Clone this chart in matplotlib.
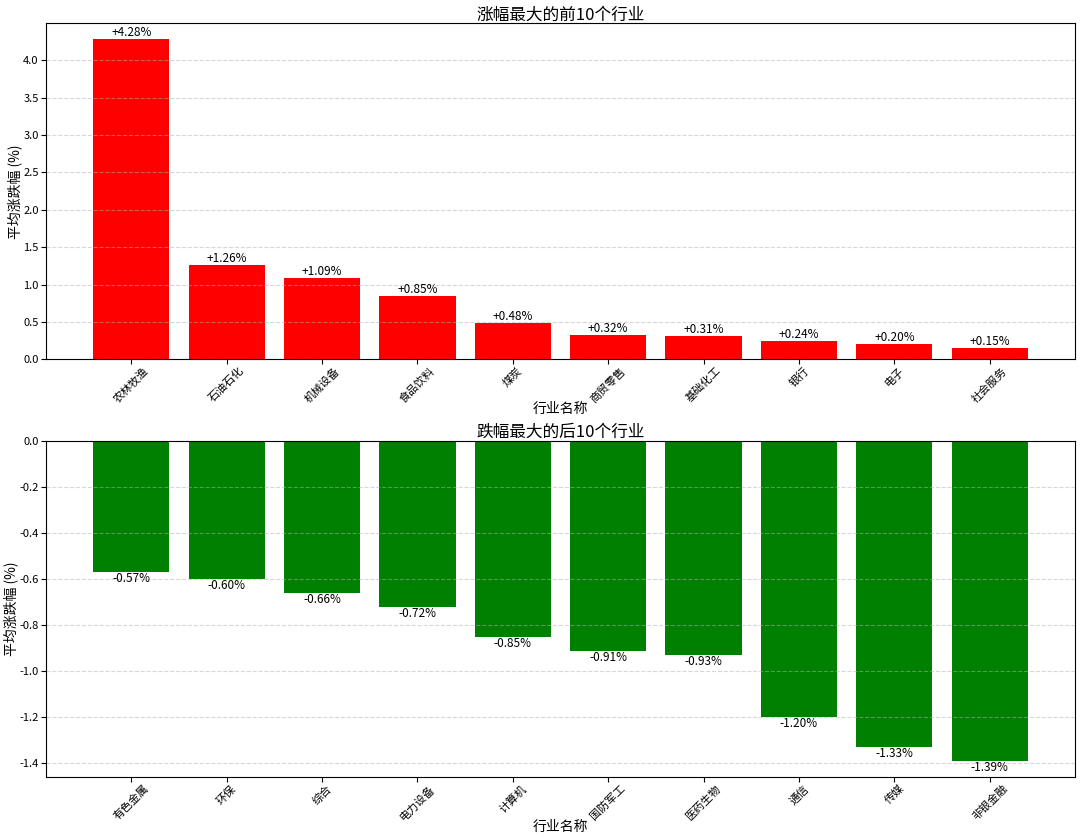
import matplotlib
matplotlib.use('Agg')
import matplotlib.pyplot as plt

plt.rcParams['font.family'] = ['Noto Sans CJK SC', 'DejaVu Sans']
plt.rcParams['axes.unicode_minus'] = False

# 涨幅前10
top_names = ['农林牧渔', '石油石化', '机械设备', '食品饮料', '煤炭',
             '商贸零售', '基础化工', '银行', '电子', '社会服务']
top_vals = [4.28, 1.26, 1.09, 0.85, 0.48, 0.32, 0.31, 0.24, 0.20, 0.15]

# 跌幅后10
bot_names = ['有色金属', '环保', '综合', '电力设备', '计算机',
             '国防军工', '医药生物', '通信', '传媒', '非银金融']
bot_vals = [-0.57, -0.60, -0.66, -0.72, -0.85, -0.91, -0.93, -1.20, -1.33, -1.39]

fig, (ax1, ax2) = plt.subplots(2, 1, figsize=(10.8, 8.39), dpi=100)


def style(ax, title):
    ax.set_title(title, fontsize=12, pad=2)
    ax.set_xlabel('行业名称', fontsize=10, labelpad=-2)
    ax.set_ylabel('平均涨跌幅 (%)', fontsize=10, labelpad=1)
    ax.grid(axis='y', linestyle='--', alpha=0.5)
    ax.tick_params(axis='x', rotation=45, labelsize=8, pad=1)
    ax.tick_params(axis='y', labelsize=8, pad=2)


bars = ax1.bar(top_names, top_vals, color='red')
for b, v in zip(bars, top_vals):
    ax1.text(b.get_x() + b.get_width() / 2, b.get_height(), f'+{v:.2f}%',
             ha='center', va='bottom', fontsize=8.5)
style(ax1, '涨幅最大的前10个行业')

bars = ax2.bar(bot_names, bot_vals, color='green')
for b, v in zip(bars, bot_vals):
    ax2.text(b.get_x() + b.get_width() / 2, b.get_height(), f'{v:.2f}%',
             ha='center', va='top', fontsize=8.5)
style(ax2, '跌幅最大的后10个行业')

plt.subplots_adjust(left=0.043, right=0.995, top=0.972, bottom=0.074, hspace=0.244)
plt.savefig('out.png')
